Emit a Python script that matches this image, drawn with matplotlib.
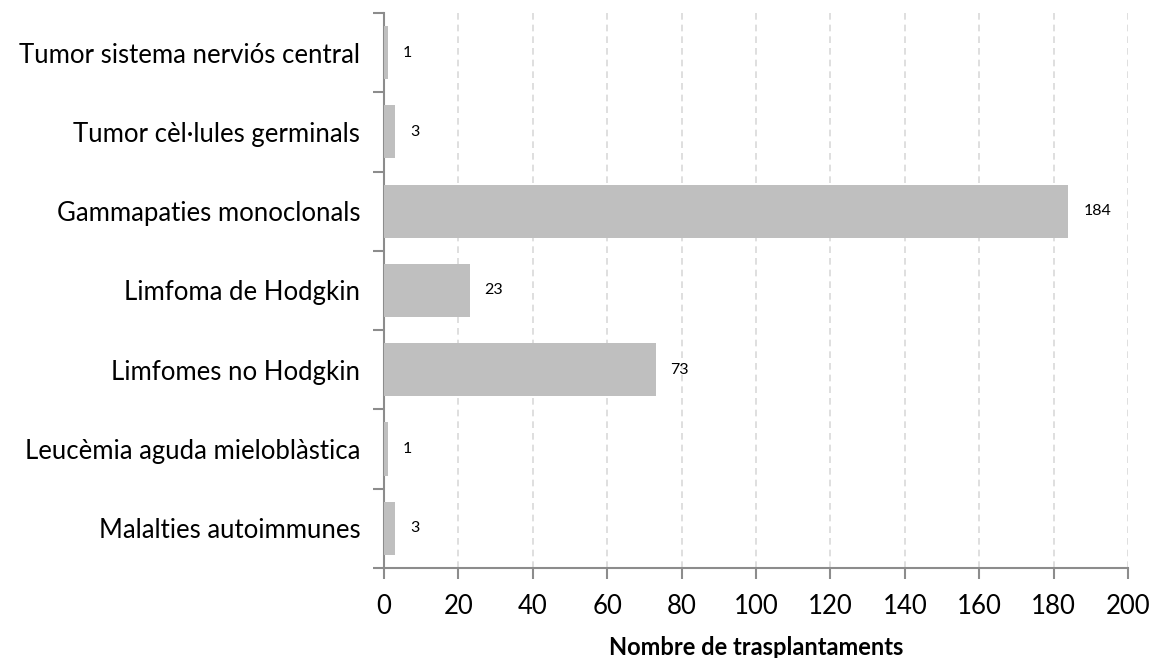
import matplotlib.pyplot as plt
import numpy as np

plt.rcParams['font.family'] = ['Lato', 'DejaVu Sans']

# data (top to bottom as in the chart)
categories = ['Tumor sistema nerviós central', 'Tumor cèl·lules germinals',
              'Gammapaties monoclonals', 'Limfoma de Hodgkin',
              'Limfomes no Hodgkin', 'Leucèmia aguda mieloblàstica',
              'Malalties autoimmunes']
values = [1, 3, 184, 23, 73, 1, 3]
xticks = [0, 20, 40, 60, 80, 100, 120, 140, 160, 180, 200]

fig = plt.figure(figsize=(11.52, 6.58), dpi=100)
ax = fig.add_axes([0.3333, 0.1368, 0.6458, 0.8435])

n = len(categories)
ypos = np.arange(n)[::-1]
ax.barh(ypos, values, height=0.67, color='#bfbfbf', zorder=3)

for y, v in zip(ypos, values):
    ax.text(v + 4, y, str(v), va='center', ha='left', fontsize=11.5, color='#000000')

ax.set_xlim(0, 200)
ax.set_ylim(-0.5, n - 0.5)
ax.set_xticks(xticks)
ax.set_xticklabels([str(t) for t in xticks], fontsize=18.5)

# category labels centred, ticks at boundaries
ax.set_yticks(ypos)
ax.set_yticklabels(categories, fontsize=18.5)
ax.tick_params(axis='y', which='major', length=0, pad=17)
ax.set_yticks(np.arange(n + 1) - 0.5, minor=True)
ax.tick_params(axis='y', which='minor', length=8, color='#8c8c8c', width=1.5)
ax.tick_params(axis='x', length=8, color='#8c8c8c', width=1.5, pad=11)

ax.xaxis.grid(True, linestyle=(0, (4, 3)), color='#d9d9d9', linewidth=1.2, zorder=0)
for s in ['top', 'right']:
    ax.spines[s].set_visible(False)
for s in ['left', 'bottom']:
    ax.spines[s].set_color('#8c8c8c')
    ax.spines[s].set_linewidth(1.5)

ax.set_xlabel('Nombre de trasplantaments', fontsize=17, fontweight='bold', labelpad=12)

fig.savefig('out.png', dpi=100)
